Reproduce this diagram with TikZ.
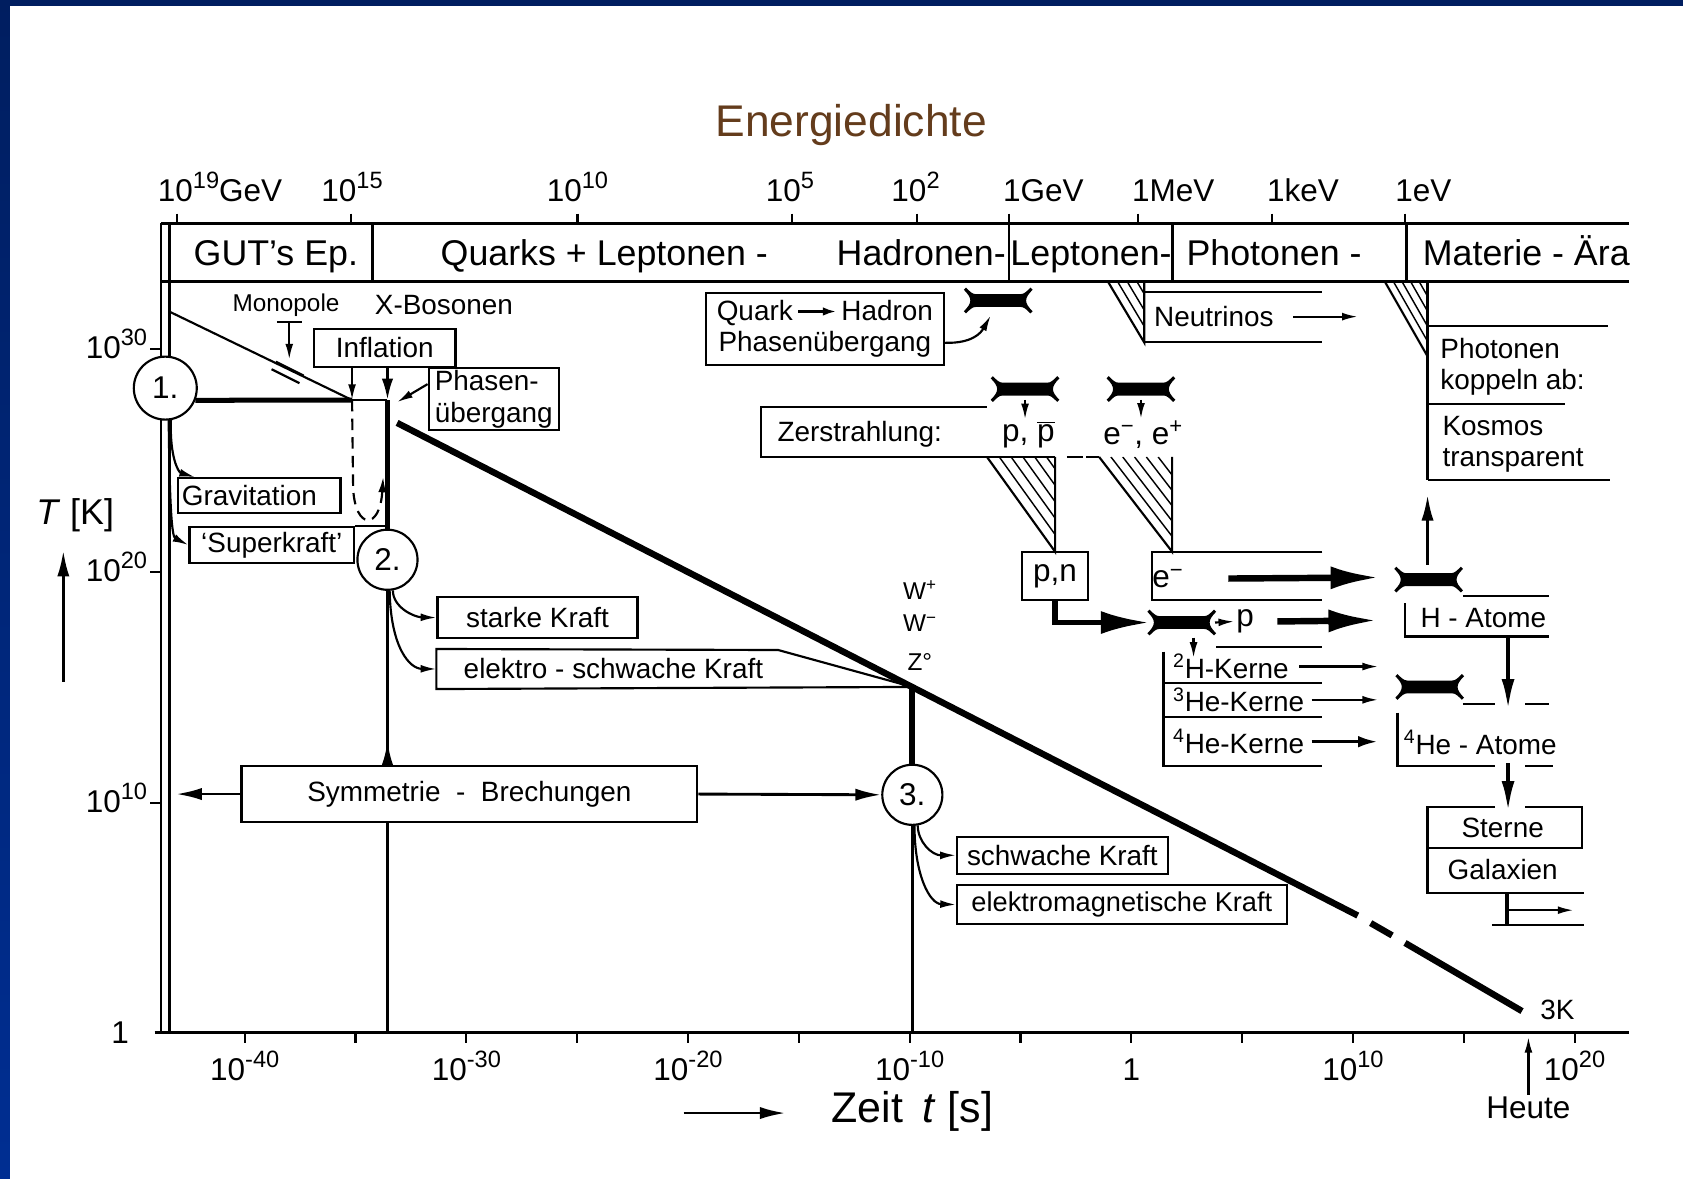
\documentclass[tikz,border=0pt]{standalone}
\usepackage{fontspec}
\setmainfont{Liberation Sans}
\usetikzlibrary{arrows.meta,calc}

\definecolor{framenavy}{RGB}{0,30,96}
\definecolor{frameblue}{RGB}{0,46,146}

\newcommand{\fntlbl}{\fontsize{19.5}{22}\selectfont}
\newcommand{\fntsml}{\fontsize{17}{20}\selectfont}
\newcommand{\fntaxis}{\fontsize{22}{26}\selectfont}
\newcommand{\fntband}{\fontsize{25}{30}\selectfont}
\newcommand{\hochz}[1]{\raisebox{0.42em}{\fontsize{16.5}{17}\selectfont #1}}

\tikzset{every picture/.style={line width=1.5pt}}
\tikzset{
  bx/.style={draw, line width=1.5pt, inner sep=0pt, font=\fntlbl},
  txt/.style={inner sep=0.75pt, font=\fntlbl},
  axl/.style={inner sep=0.75pt, font=\fntaxis},
  band/.style={inner sep=0.75pt, font=\fntband},
  num/.style={draw, circle, fill=white, line width=1.5pt, inner sep=0pt, minimum size=42pt, font=\fntaxis},
  hatch/.style={line width=1pt},
  tipS/.style={-{Latex[length=11pt,width=5.5pt]}},
  tipM/.style={-{Latex[length=18pt,width=8.5pt]}},
  tipL/.style={-{Latex[length=34pt,width=16pt]}},
  hglass/.pic={
    \fill (-30,-12) .. controls (-26,-8) and (-24,-6) .. (-21,-6) -- (21,-6)
      .. controls (24,-6) and (26,-8) .. (30,-12) -- (32,-10)
      .. controls (28,-6) and (26,-3) .. (26,0) .. controls (26,3) and (28,6) .. (32,10)
      -- (30,12) .. controls (26,8) and (24,6) .. (21,6) -- (-21,6)
      .. controls (-24,6) and (-26,8) .. (-30,12) -- (-32,10)
      .. controls (-28,6) and (-26,3) .. (-26,0) .. controls (-26,-3) and (-28,-6) .. (-32,-10) -- cycle;
  }
}

\begin{document}
\begin{tikzpicture}[x=0.75pt,y=0.75pt,yscale=-1,xscale=1]
\useasboundingbox (0,0) rectangle (1568,1098);

%Shape: Rectangle [background]
\fill [color=white] (0,0) rectangle (1568,1098);
%Shape: Rectangle [frame top]
\fill [color=framenavy] (0,0) rectangle (1568,5.6);
%Shape: Rectangle [frame left]
\shade [top color=framenavy, bottom color=frameblue] (0,0) rectangle (9.3,1098);

% Text Node
\draw (793,127) node (title) [anchor=base, inner sep=0.75pt, font=\fontsize{31}{36}\selectfont, color={rgb, 255:red, 100; green, 60; blue, 28 }] {Energiedichte};

%Straight Lines [band]
\draw [line width=2pt] (150,208) -- (1518,208) ;
\draw [line width=2pt] (150,262) -- (1518,262) ;
\foreach \x in {347,940,1092,1310} \draw [line width=2pt] (\x,208) -- (\x,262) ;
\foreach \x in {165,327,538,738,854,940,1060,1185,1309} \draw (\x,199) -- (\x,208) ;

%Straight Lines [axes]
\coordinate (axB) at (0,962);
\draw [line width=2pt] (150,208) -- (150,962) ;
\draw [line width=2pt] (158,208) -- (158,962) ;
\draw [line width=2pt] (144,962) -- (1518,962) ;
\foreach \k in {0,...,12} \draw (228+103.25*\k,962) -- (228+103.25*\k,972) ;
\foreach \y in {325,533,748} \draw (140,\y) -- (150,\y) ;

% Text Node [energy scale]
\draw (205,188) node (eA) [anchor=base, axl] {10\hochz{19}GeV};
\draw (328,188) node (eB) [anchor=base, axl] {10\hochz{15}};
\draw (538,188) node (eC) [anchor=base, axl] {10\hochz{10}};
\draw (736,188) node (eD) [anchor=base, axl] {10\hochz{5}};
\draw (853,188) node (eE) [anchor=base, axl] {10\hochz{2}};
\draw (972,188) node (eF) [anchor=base, axl] {1GeV};
\draw (1093,188) node (eG) [anchor=base, axl] {1MeV};
\draw (1214,188) node (eH) [anchor=base, axl] {1keV};
\draw (1326,188) node (eI) [anchor=base, axl] {1eV};

% Text Node [eras]
\draw (257,247) node (gut) [anchor=base, band] {GUT's Ep.};
\draw (563,247) node (quark) [anchor=base, band] {Quarks + Leptonen -};
\draw (939,247) node (hadr) [anchor=base east, band] {Hadronen-};
\draw (1016.5,247) node (lept) [anchor=base, band] {Leptonen-};
\draw (1187,247) node (phot) [anchor=base, band] {Photonen -};
\draw (1422,247) node (mat) [anchor=base, band] {Materie - Ära};

% Text Node [temperature scale]
\draw (139,334) node (t30) [anchor=base east, axl] {10\hochz{30}};
\draw (139,542) node (t20) [anchor=base east, axl] {10\hochz{20}};
\draw (139,757) node (t10) [anchor=base east, axl] {10\hochz{10}};
\draw (122,972) node (t0) [anchor=base east, axl] {1};
\draw (70,489) node (tk) [anchor=base, inner sep=0.75pt, font=\fontsize{25}{30}\selectfont] {\textit{T} [K]};
\draw [tipM, line width=2pt] (59,635) -- (59,513) ;

% Text Node [time scale]
\foreach \k/\lab in {0/-40,1/-30,2/-20,3/-10,5/10,6/20}
  \draw (228+206.5*\k,1007) node (tb\k) [anchor=base, axl] {10\hochz{\lab}};
\draw (1054,1007) node (tb4) [anchor=base, axl] {1};
\draw (1424,1042) node (heute) [anchor=base, axl] {Heute};
\draw [tipS] (heute.north) -- (1424,966) ;
\draw (850,1046) node (zeit) [anchor=base, inner sep=0.75pt, font=\fontsize{30}{34}\selectfont] {Zeit \,\textit{t} [s]};
\draw [tipM, line width=2pt] (637,1037) -- (732,1037) ;

%Straight Lines [cooling line]
\coordinate (A) at (370,394);
\coordinate (G1) at (1265,853);
\coordinate (G2) at (1309,878.5);
\coordinate (B) at (1418,942);
\draw [line width=4.5pt] (A) -- (G1) ;
\draw [line width=4.5pt] (1277,860) -- (1297,871.5) ;
\draw [line width=4.5pt] (G2) -- (B) ;
\draw (1451,941) node (tk3) [txt] {3K};

%Shape: Circle
\draw (154,361.6) node (c1) [num, minimum size=44pt] {1.};
\draw (361,521.5) node (c2) [num] {2.};
\draw (850,740.5) node (c3) [num] {3.};

%Straight Lines [GUT epoch]
\coordinate (M0) at (158,290.4);
\coordinate (J1) at (328,372.7);
\coordinate (J2) at (361,372.7);
\draw (M0) -- (J1) ;
\draw [line width=3.5pt] (c1.-22) -- (J1) ;
\draw (J1) -- (J2) ;
\draw [line width=3pt] (J2) -- (c2.north) ;
\draw [tipS, dash pattern=on 8pt off 5pt] (J1) -- (329,455) .. controls (331,494) and (354,494) .. (357,444) ;

% Text Node [inflation]
\draw (358.4,324.2) node (infl) [bx, minimum width=99pt, minimum height=27pt] {Inflation};
\draw [tipS] (infl.south -| J1) -- (J1) ;
\draw [-{Latex[length=15pt,width=8pt]}, line width=2pt] (infl.south -| J2) -- (J2) ;
\draw (460,371.9) node (phase) [bx, minimum width=91pt, minimum height=43pt, align=left] {Phasen-\\übergang};
\draw [tipS] ($(phase.west)+(0,-14)$) -- ($(J2)+(9,2)$) ;

% Text Node [monopole]
\draw (266.5,284) node (mono) [txt, font=\fntsml] {Monopole};
\draw (413.6,284) node (xbos) [txt] {X-Bosonen};
\draw (258,300) -- (281,300) ;
\draw [tipS] (269.5,300) -- (269.5,335) ;
\draw (257,337) -- (283,350) ;
\draw (253,344) -- (279,357) ;

% Text Node [forces 1]
\draw (241.5,461.8) node (grav) [bx, minimum width=113.6pt, minimum height=24.3pt, text width=108pt, inner xsep=2.8pt, align=left] {Gravitation};
\draw (253.2,507.8) node (superk) [bx, minimum width=115pt, minimum height=25.6pt] {`Superkraft'};
\draw (superk.north east) -- (c2.north |- superk.north east) ;
%Curve Lines
\draw [tipS] (c1.-80) .. controls (158,425) and (166,440) .. ($(grav.north west)+(17,0)$) ;
\draw [tipS] (c1.-84) .. controls (158,470) and (160,500) .. (superk.west) ;

% Text Node [forces 2]
\draw (500.8,575.4) node (starke) [bx, minimum width=139.8pt, minimum height=29pt] {starke Kraft};
\draw (571.5,623.3) node (esk) [minimum width=245.9pt, minimum height=26.5pt, inner sep=0pt, font=\fntlbl] {elektro - schwache Kraft};
\coordinate (Z) at (850,640);
\draw (esk.south west) -- (esk.north west) -- (725,605.6) -- (Z) -- cycle ;
%Curve Lines
\draw [tipS] (c2.-80) .. controls (366,566) and (386,575) .. (starke.west) ;
\draw [tipS] (c2.-86) .. controls (364,604) and (382,623) .. (esk.west) ;

% Text Node [symmetry breaking]
\draw (437.3,739.8) node (sym) [bx, minimum width=318.5pt, minimum height=38.7pt] {Symmetrie~~-~~Brechungen};
\coordinate (symL) at (164,739.8);
\draw [tipM, line width=2pt] (sym.west) -- (symL) ;
\draw [tipM, line width=2pt] (sym.east) -- (c3.west) ;
\draw [{Latex[length=17pt,width=8pt,reversed]}-, line width=2pt] (sym.north -| c2) -- (c2.south) ;
\draw [line width=2pt] (sym.south -| c2) -- (c2 |- axB) ;
\draw [line width=4pt] (Z) -- (c3.north) ;
\draw [line width=2pt] (c3.south) -- (c3 |- axB) ;

% Text Node [bosons]
\draw (857,550) node (wp) [txt, font=\fntsml] {W\textsuperscript{+}};
\draw (857,581) node (wm) [txt, font=\fntsml] {W\textsuperscript{−}};
\draw (857,617) node (z0) [txt, font=\fntsml] {Z°};

% Text Node [forces 3]
\draw (989.8,796.8) node (schw) [bx, minimum width=147.3pt, minimum height=25.9pt] {schwache Kraft};
\draw (1045.2,842.8) node (emk) [bx, minimum width=230.3pt, minimum height=27.4pt, font=\fontsize{19}{22}\selectfont] {elektromagnetische Kraft};
%Curve Lines
\draw [tipS] (c3.-80) .. controls (855,784) and (868,797) .. (schw.west) ;
\draw [tipS] (c3.-86) .. controls (852,815) and (866,842) .. (emk.west) ;

% Text Node [quark-hadron]
\draw (768.5,306.4) node (qh) [bx, minimum width=166.7pt, minimum height=50.5pt, align=center] {Quark\,\tikz[baseline=-0.6ex]\draw[-{Latex[length=9pt,width=6pt]},line width=1.5pt] (0pt,0pt) -- (26pt,0pt);\,Hadron\\Phasenübergang};

%Shape: Hourglass
\coordinate (hg1) at (930,280);
\coordinate (hg2) at (955,362.5);
\coordinate (hg3) at (1063,362.5);
\coordinate (hgp) at (1101,580);
\coordinate (hgH) at (1331,540);
\coordinate (hgHe) at (1332,640);
\foreach \h in {hg1,hg2,hg3,hgp,hgH,hgHe} \pic at (\h) {hglass};
\draw [tipS] ($(qh.east)+(0,13)$) .. controls (906,320) and (914,310) .. ($(hg1)+(-7,14)$) ;

% Text Node [annihilation]
\draw (801,405) node (zer) [txt] {Zerstrahlung:};
\draw (958,405) node (pp) [txt, font=\fntaxis] {p, $\overline{\mbox{p}}$};
\draw (1065,405) node (ee) [txt, font=\fntaxis] {e\textsuperscript{−}, e\textsuperscript{+}};
\draw (919.5,378.9) -- (709,378.9) -- (709,425.7) -- (983,425.7) ;
\draw (994,425.7) -- (1008.6,425.7) ;
\draw (1012,425.7) -- (1024,425.7) ;
\draw [tipS] ($(hg2)+(0,10)$) -- (hg2 |- pp.north) ;
\draw [tipS] ($(hg3)+(0,10)$) -- (hg3 |- ee.north) ;

%Shape: Triangle [hatched]
\begin{scope}
\clip (919.5,425.7) -- (983,425.7) -- (983,514) -- cycle;
\foreach \x in {931,942,...,975} \draw [hatch] (\x,425.7) -- ++(63.5,88.3) ;
\end{scope}
\draw (919.5,425.7) -- (983,514) -- (983,425.7) ;
\begin{scope}
\clip (1024,425.7) -- (1092,425.7) -- (1092,514) -- cycle;
\foreach \x in {1035,1046,...,1085} \draw [hatch] (\x,425.7) -- ++(68,88.3) ;
\end{scope}
\draw (1024,425.7) -- (1092,514) -- (1092,425.7) ;
\begin{scope}
\clip (1032,262) -- (1066,262) -- (1066,319) -- cycle;
\foreach \x in {1041,1050,1059} \draw [hatch] (\x,262) -- ++(34,57) ;
\end{scope}
\draw (1032,262) -- (1066,319) -- (1066,262) ;
\begin{scope}
\clip (1290,262) -- (1330,262) -- (1330,332) -- cycle;
\foreach \x in {1298,1306,1314,1322} \draw [hatch] (\x,262) -- ++(40,70) ;
\end{scope}
\draw (1290,262) -- (1330,332) ;

% Text Node [neutrinos]
\draw (1066,272) -- (1232,272) ;
\draw (1066,319) -- (1232,319) ;
\draw (1131,295) node (neut) [txt] {Neutrinos};
\draw [tipS] ($(neut.east)+(16,0)$) -- (1265,295) ;

% Text Node [decoupling]
\draw (1330,262) -- (1330,447) ;
\draw (1330,303.5) -- (1498,303.5) ;
\draw (1330,376) -- (1458,376) ;
\draw (1330,447) -- (1500,447) ;
\draw (1340,341.6) node (phk) [txt, anchor=west, align=left] {Photonen\\koppeln ab:};
\draw (1342,414) node (kos) [txt, anchor=west, align=left] {Kosmos\\transparent};

% Text Node [nucleons]
\draw (983,536.5) node (pn) [bx, minimum width=45.8pt, minimum height=33.8pt, font=\fntaxis] {p,n};
\draw [tipL, line width=4pt] (pn.south) -- (pn.south |- hgp) -- ($(hgp)+(-30,0)$) ;
\draw (1232,514) -- (1073,514) -- (1073,559) -- (1232,559) ;
\draw (1088,539) node (em) [txt, font=\fntaxis] {e\textsuperscript{−}};
\draw [tipL, line width=4.5pt] ($(em.east)+(40,0)$) -- ($(hgH)+(-46,-2)$) ;
\draw (1160,579) node (pl) [txt, font=\fntaxis] {p};
\draw [tipS] ($(hgp)+(31,0)$) -- (pl.west) ;
\draw [tipL, line width=4.5pt] ($(pl.east)+(20,0)$) -- (1283,578) ;
\draw (1133,602.5) -- (1232,602.5) ;
\draw [tipS] ($(hgp)+(11,14)$) -- (1112,613) ;

% Text Node [nuclei]
\draw (1084,607) -- (1084,714) -- (1232,714) ;
\draw (1084,636) -- (1232,636) ;
\draw (1084,668) -- (1232,668) ;
\draw (1091,621) node (k2) [txt, anchor=west] {\textsuperscript{2}H-Kerne};
\draw (1091,652) node (k3) [txt, anchor=west] {\textsuperscript{3}He-Kerne};
\draw (1091,691) node (k4) [txt, anchor=west] {\textsuperscript{4}He-Kerne};
\draw [tipS] ($(k2.east)+(8,0)$) -- (1284,621) ;
\draw [tipS] ($(k3.east)+(5,0)$) -- (1284,652) ;
\draw [-{Latex[length=14pt,width=8pt]}, line width=2.5pt] ($(k4.east)+(5,0)$) -- (1284,691) ;

% Text Node [atoms]
\draw (1363,555) -- (1443,555) ;
\draw (1309,562) -- (1309,593) -- (1443,593) ;
\draw (1382,576) node (hat) [txt] {H - Atome};
\draw [tipM, line width=2pt] ($(hgH)+(-1,-14)$) -- (1330,461) ;
\draw [-{Latex[length=22pt,width=9pt]}, line width=3pt] (1405,593) -- (1405,662) ;
\draw (1363,656) -- (1393,656) ;
\draw (1421,656) -- (1443,656) ;
\draw (1302,664) -- (1302,714) -- (1393,714) ;
\draw (1421,714) -- (1447,714) ;
\draw (1306,692) node (heat) [txt, anchor=west] {\textsuperscript{4}He - Atome};
\draw [-{Latex[length=22pt,width=9pt]}, line width=3pt] (1405,711) -- (1405,757) ;

% Text Node [stars]
\draw (1393,752) -- (1330,752) -- (1330,832) -- (1476,832) ;
\draw (1421,752) -- (1474,752) -- (1474,790) -- (1330,790) ;
\draw (1400,771) node (stern) [txt] {Sterne};
\draw (1400,810) node (galax) [txt] {Galaxien};
\draw [line width=3pt] (1404,832) -- (1404,862) ;
\draw (1390,862) -- (1476,862) ;
\draw [tipS] (1405,848) -- (1466,848) ;

\end{tikzpicture}
\end{document}
